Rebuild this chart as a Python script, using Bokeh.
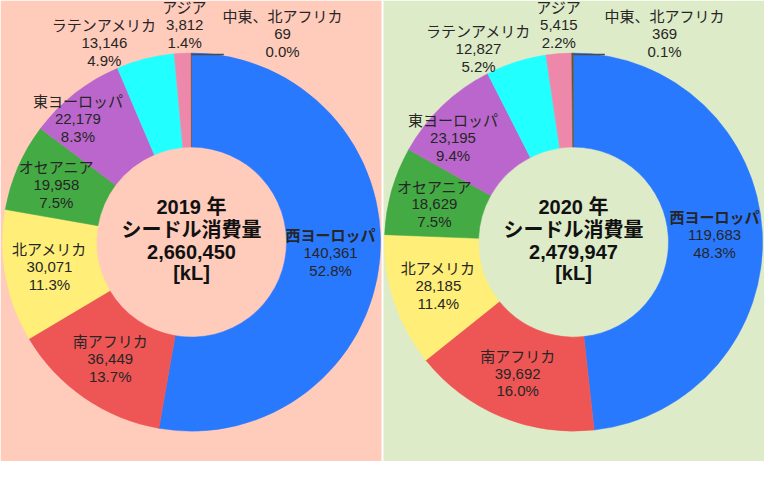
import math
from bokeh.plotting import figure
from bokeh.models import Range1d, ColumnDataSource
from bokeh.core.properties import value
from bokeh.embed import file_html
from bokeh.resources import INLINE

# ---------------- data ----------------
regions = ["西ヨーロッパ", "南アフリカ", "北アメリカ", "オセアニア",
           "東ヨーロッパ", "ラテンアメリカ", "アジア", "中東、北アフリカ"]
v2019 = [140361, 36449, 30071, 19958, 22179, 13146, 3812, 69]
v2020 = [119683, 39692, 28185, 18629, 23195, 12827, 5415, 369]
years = ["2019 年", "2020 年"]
totals = ["2,660,450", "2,479,947"]
center_title = "シードル消費量"
unit = "[kL]"

colors = ["#2979FF", "#EE5555", "#FFEE77", "#44AA44",
          "#BB66CC", "#22FFFF", "#EE88AA", "#5A5A40"]

# ---------------- layout (reference pixel coords) ----------------
W_REF, H_REF = 780, 477
panel_bg = ["#FFCBBB", "#DDEBC8"]
panel_x = [(0, 389), (391, 780)]
centers = [(195, 250), (585, 250)]
R_OUT, R_IN = 193, 97
center_line_y = [214, 237, 260, 282]
label_pos = [
    [(337, 243), (112, 353), (50, 258), (57, 173), (79, 105), (106, 26), (188, 7), (288, 17)],
    [(729, 225), (528, 368), (447, 277), (443, 193), (462, 124), (488, 32), (570, 7), (678, 17)],
]
LINE = 18
leaders = [((195, 56), (228, 56)), ((585, 56), (617, 56))]

FONT = value("'Liberation Sans', 'Noto Sans CJK JP', sans-serif")

def Y(y):
    return H_REF - y

p = figure(width=764, height=461, output_backend="svg", toolbar_location=None,
           x_range=Range1d(0, W_REF), y_range=Range1d(0, H_REF),
           min_border=0, background_fill_color="white", border_fill_color="white")
p.axis.visible = False
p.grid.visible = False
p.outline_line_color = None

for i, vals in enumerate([v2019, v2020]):
    x0, x1 = panel_x[i]
    p.quad(left=[x0], right=[x1], bottom=[0], top=[H_REF],
           fill_color=panel_bg[i], line_color=None)

    total = sum(vals)
    starts, ends = [], []
    cum = 0.0
    for v in vals:
        starts.append(math.pi / 2 - 2 * math.pi * cum / total)
        cum += v
        ends.append(math.pi / 2 - 2 * math.pi * cum / total)
    cx, cy = centers[i]
    src = ColumnDataSource(dict(start=starts, end=ends, color=colors))
    p.annular_wedge(x=cx, y=Y(cy), inner_radius=R_IN, outer_radius=R_OUT,
                    start_angle="start", end_angle="end", direction="clock",
                    fill_color="color", line_color="color", line_width=0.5,
                    source=src)

    # leader line for the tiny slice
    (lx0, ly0), (lx1, ly1) = leaders[i]
    p.line(x=[lx0, lx1], y=[Y(ly0), Y(ly1)], line_color="#4A4A4A", line_width=1.5)

    # slice labels
    for k, (name, v) in enumerate(zip(regions, vals)):
        lx, ly = label_pos[i][k]
        pct = f"{100 * v / total:.1f}%"
        lines = [name, f"{v:,}", pct]
        for j, t in enumerate(lines):
            p.text(x=[lx], y=[Y(ly + j * LINE)], text=[t],
                   text_font=FONT, text_font_size="15px",
                   text_font_style="bold" if (k == 0 and j == 0) else "normal",
                   text_color="#262626", text_align="center",
                   text_baseline="middle")

    # center text
    ctext = [years[i], center_title, totals[i], unit]
    for j, t in enumerate(ctext):
        p.text(x=[cx], y=[Y(center_line_y[j])], text=[t],
               text_font=FONT, text_font_size="20px", text_font_style="bold",
               text_color="#111111", text_align="center", text_baseline="middle")

open("out.html", "w").write(file_html(p, INLINE))
